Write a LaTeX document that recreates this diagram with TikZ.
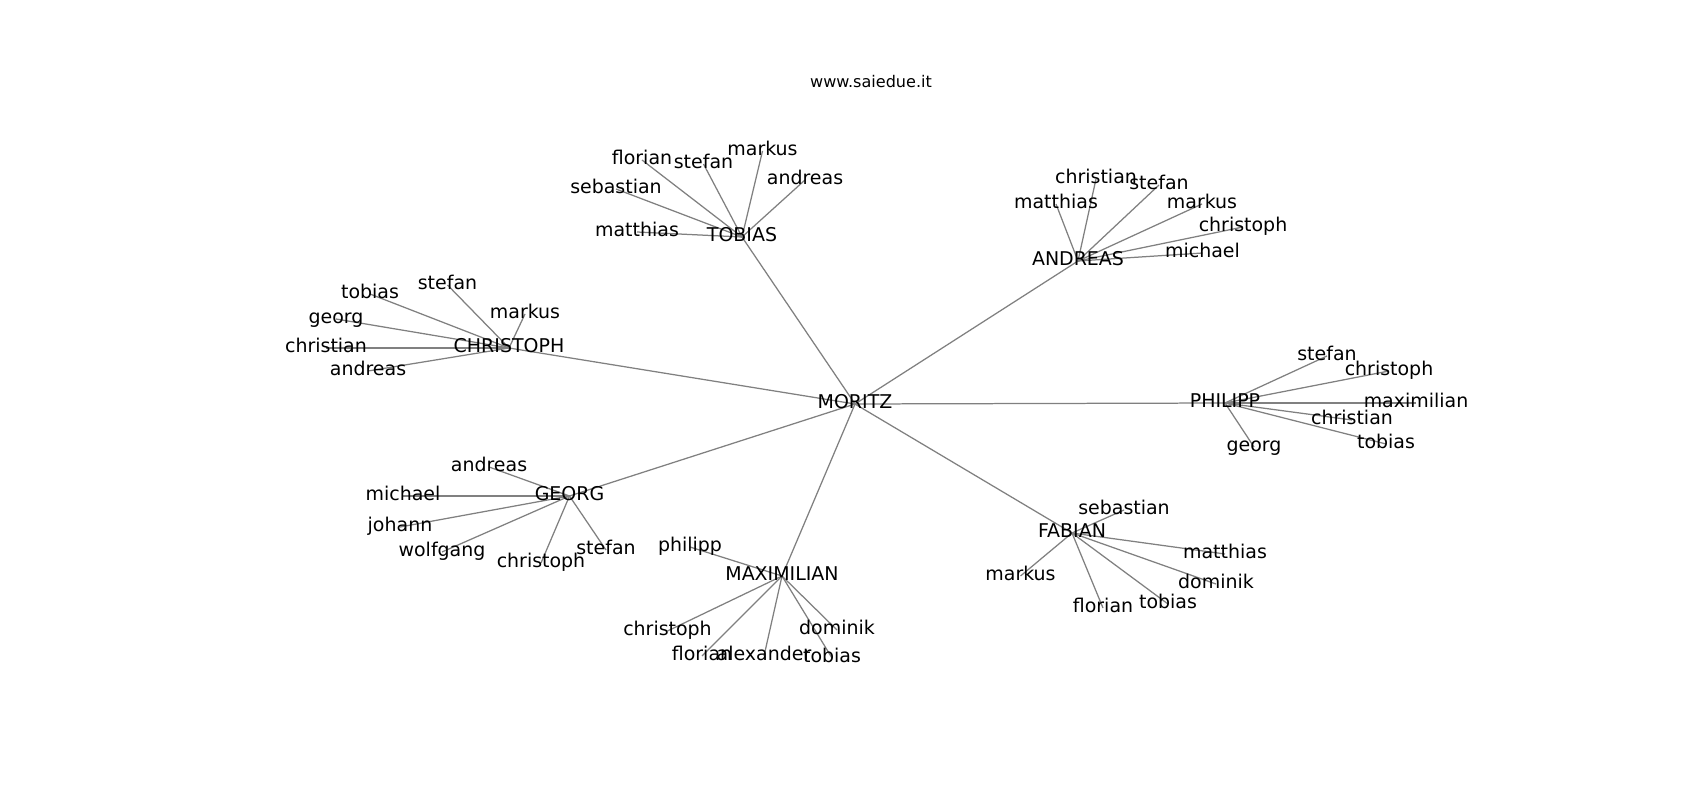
\documentclass[tikz,border=0pt]{standalone}
\usepackage{fontspec}
\setmainfont{DejaVu Sans}
\pgfdeclarelayer{bg}
\pgfsetlayers{bg,main}
\tikzset{
  lbl/.style={inner sep=0pt, text height=10.4pt, text depth=3.2pt, font=\fontsize{13.7}{16}\selectfont, text=black},
  ttl/.style={inner sep=0pt, anchor=base, font=\fontsize{11.6}{14}\selectfont, text=black},
  edge/.style={draw=black!50, line width=0.9pt}
}
\begin{document}
\begin{tikzpicture}[x=0.01in, y=-0.01in]
\begin{pgfonlayer}{bg}
\path[use as bounding box, fill=white] (0,0) rectangle (1700,800);
\end{pgfonlayer}
\begin{scope}[shift={(0,2)}]
\node[ttl] (title) at (871,86) {www.saiedue.it};
% hubs
\node[lbl] (mor) at (855,402) {MORITZ};
\node[lbl] (tob) at (742,235) {TOBIAS};
\node[lbl] (and) at (1078,259) {ANDREAS};
\node[lbl] (chr) at (509,346) {CHRISTOPH};
\node[lbl] (phi) at (1225,401) {PHILIPP};
\node[lbl] (geo) at (569.5,494) {GEORG};
\node[lbl] (max) at (782,574) {MAXIMILIAN};
\node[lbl] (fab) at (1072,531) {FABIAN};
% TOBIAS leaves
\node[lbl] (t1) at (642,158) {florian};
\node[lbl] (t2) at (703.5,162) {stefan};
\node[lbl] (t3) at (762.5,149) {markus};
\node[lbl] (t4) at (805,178) {andreas};
\node[lbl] (t5) at (616,187) {sebastian};
\node[lbl] (t6) at (637,230) {matthias};
% ANDREAS leaves
\node[lbl] (a1) at (1096,177) {christian};
\node[lbl] (a2) at (1159,183) {stefan};
\node[lbl] (a3) at (1056,202) {matthias};
\node[lbl] (a4) at (1202,202) {markus};
\node[lbl] (a5) at (1243,225) {christoph};
\node[lbl] (a6) at (1202.5,251) {michael};
% CHRISTOPH leaves
\node[lbl] (c1) at (370,292) {tobias};
\node[lbl] (c2) at (447.5,283) {stefan};
\node[lbl] (c3) at (525,312) {markus};
\node[lbl] (c4) at (336,317) {georg};
\node[lbl] (c5) at (326,346) {christian};
\node[lbl] (c6) at (368,369) {andreas};
% PHILIPP leaves
\node[lbl] (p1) at (1327,354) {stefan};
\node[lbl] (p2) at (1389,369) {christoph};
\node[lbl] (p3) at (1416,401) {maximilian};
\node[lbl] (p4) at (1352,418) {christian};
\node[lbl] (p5) at (1386,442) {tobias};
\node[lbl] (p6) at (1254,445) {georg};
% GEORG leaves
\node[lbl] (g1) at (489,465) {andreas};
\node[lbl] (g2) at (403,494) {michael};
\node[lbl] (g3) at (400,525) {johann};
\node[lbl] (g4) at (442,550) {wolfgang};
\node[lbl] (g5) at (541,561) {christoph};
\node[lbl] (g6) at (606,548) {stefan};
% MAXIMILIAN leaves
\node[lbl] (m1) at (690,545) {philipp};
\node[lbl] (m2) at (667.5,629) {christoph};
\node[lbl] (m3) at (702,654) {florian};
\node[lbl] (m4) at (764,654) {alexander};
\node[lbl] (m5) at (832,656) {tobias};
\node[lbl] (m6) at (837,628) {dominik};
% FABIAN leaves
\node[lbl] (f1) at (1124,508) {sebastian};
\node[lbl] (f2) at (1225,552) {matthias};
\node[lbl] (f3) at (1020.5,574) {markus};
\node[lbl] (f4) at (1216,582) {dominik};
\node[lbl] (f5) at (1168,602) {tobias};
\node[lbl] (f6) at (1103,606) {florian};
\begin{pgfonlayer}{bg}
\foreach \h in {tob,and,chr,phi,geo,max,fab}
  \draw[edge] (mor.center) -- (\h.center);
\foreach \l in {t1,t2,t3,t4,t5,t6} \draw[edge] (tob.center) -- (\l.center);
\foreach \l in {a1,a2,a3,a4,a5,a6} \draw[edge] (and.center) -- (\l.center);
\foreach \l in {c1,c2,c3,c4,c5,c6} \draw[edge] (chr.center) -- (\l.center);
\foreach \l in {p1,p2,p3,p4,p5,p6} \draw[edge] (phi.center) -- (\l.center);
\foreach \l in {g1,g2,g3,g4,g5,g6} \draw[edge] (geo.center) -- (\l.center);
\foreach \l in {m1,m2,m3,m4,m5,m6} \draw[edge] (max.center) -- (\l.center);
\foreach \l in {f1,f2,f3,f4,f5,f6} \draw[edge] (fab.center) -- (\l.center);
\end{pgfonlayer}
\end{scope}
\end{tikzpicture}
\end{document}
